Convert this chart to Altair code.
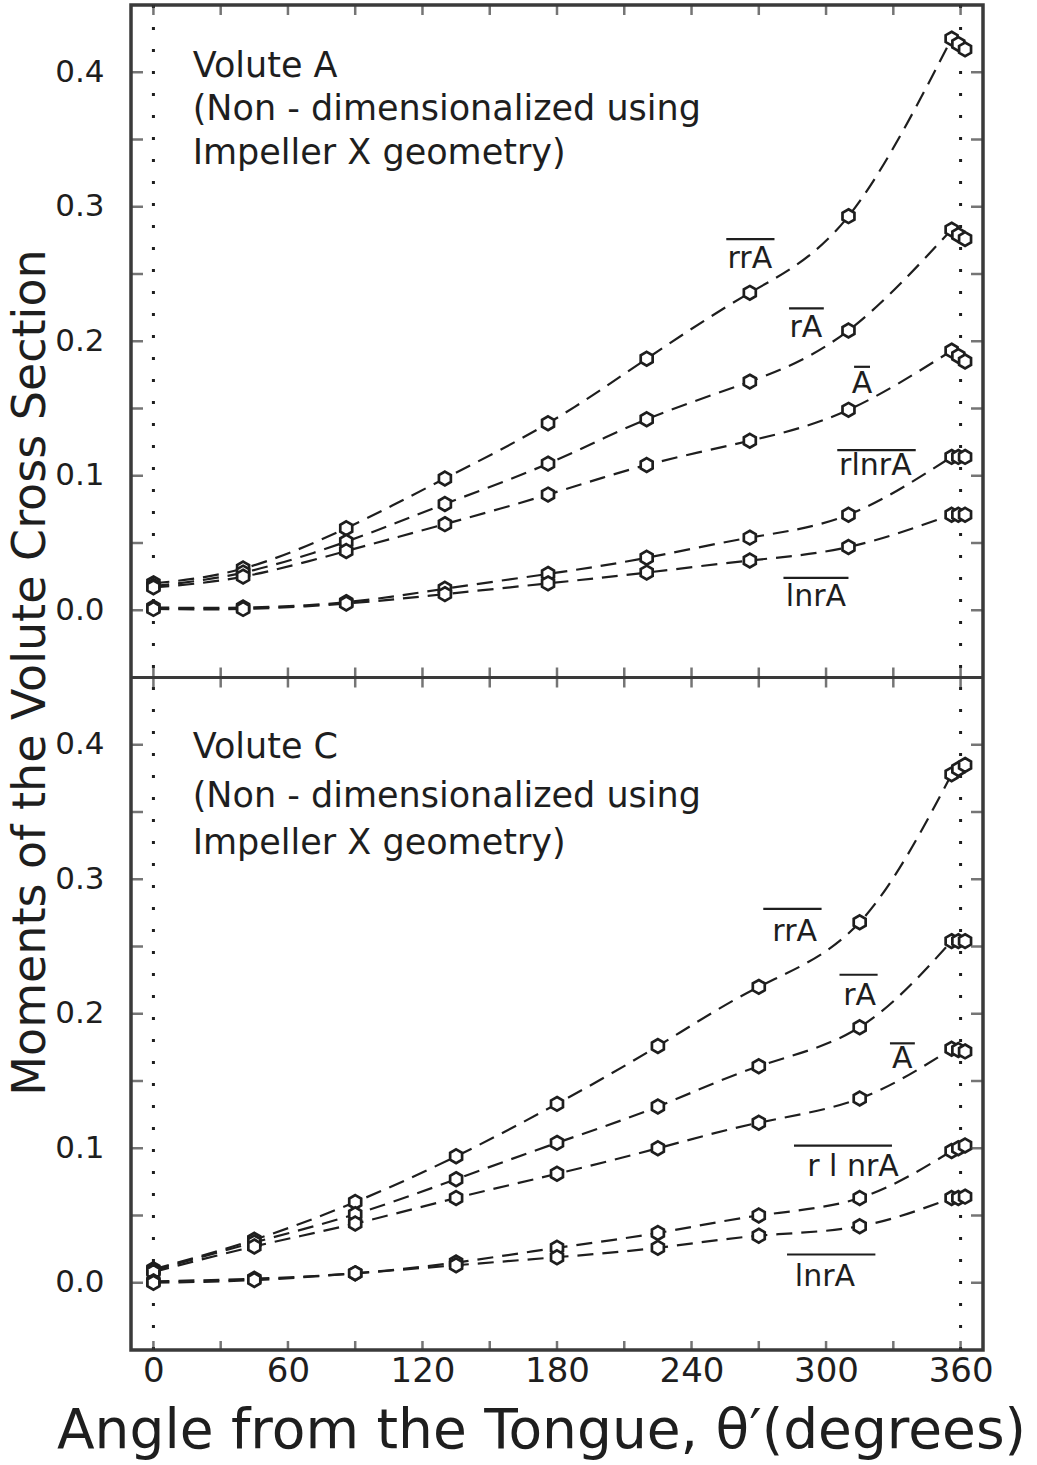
import altair as alt
import pandas as pd

# ---------------- data ----------------
angles_A = [0, 40, 86, 130, 176, 220, 266, 310, 356, 359, 362]
angles_C = [0, 45, 90, 135, 180, 225, 270, 315, 356, 359, 362]

# Volute A
rrA_A = [0.020, 0.031, 0.061, 0.098, 0.139, 0.187, 0.236, 0.293, 0.425, 0.421, 0.417]
rA_A = [0.018, 0.028, 0.051, 0.079, 0.109, 0.142, 0.170, 0.208, 0.283, 0.279, 0.276]
A_A = [0.017, 0.025, 0.044, 0.064, 0.086, 0.108, 0.126, 0.149, 0.193, 0.189, 0.185]
rlnrA_A = [0.002, 0.002, 0.006, 0.016, 0.027, 0.039, 0.054, 0.071, 0.114, 0.114, 0.114]
lnrA_A = [0.001, 0.001, 0.005, 0.012, 0.020, 0.028, 0.037, 0.047, 0.071, 0.071, 0.071]

# Volute C
rrA_C = [0.010, 0.032, 0.060, 0.094, 0.133, 0.176, 0.220, 0.268, 0.378, 0.382, 0.385]
rA_C = [0.009, 0.030, 0.051, 0.077, 0.104, 0.131, 0.161, 0.190, 0.254, 0.254, 0.254]
A_C = [0.008, 0.027, 0.044, 0.063, 0.081, 0.100, 0.119, 0.137, 0.174, 0.173, 0.172]
rlnrA_C = [0.001, 0.003, 0.007, 0.015, 0.026, 0.037, 0.050, 0.063, 0.098, 0.100, 0.102]
lnrA_C = [0.000, 0.002, 0.007, 0.013, 0.019, 0.026, 0.035, 0.042, 0.063, 0.063, 0.064]

series_names = ["rrA", "rA", "A", "rlnrA", "lnrA"]

# curve labels (text, anchor angle, anchor value, overline span and height)
label_text_A = ["rrA", "rA", "A", "rlnrA", "lnrA"]
label_x_A = [266, 291, 316, 322, 295.5]
label_y_A = [0.261, 0.210, 0.168, 0.107, 0.010]
over_x1_A = [255.5, 283.5, 312.5, 305, 281]
over_x2_A = [277, 299, 319.6, 340, 310]
over_y_A = [0.276, 0.2245, 0.181, 0.119, 0.024]

label_text_C = ["rrA", "rA", "A", "r l nrA", "lnrA"]
label_x_C = [286, 315, 334, 312, 299.5]
label_y_C = [0.261, 0.213, 0.166, 0.086, 0.0045]
over_x1_C = [272, 306, 328.5, 285.7, 282.6]
over_x2_C = [298, 323, 339.6, 329.4, 322]
over_y_C = [0.278, 0.229, 0.178, 0.102, 0.021]

# panel notes
note_lines_A = ["Volute A", "(Non - dimensionalized using", "Impeller X geometry)"]
note_lines_C = ["Volute  C", "(Non - dimensionalized using", "Impeller X geometry)"]
note_x = 17.5
note_y_A = [0.405, 0.373, 0.340]
note_y_C = [0.398, 0.362, 0.327]

# axes
x_tick_labels = [0, 60, 120, 180, 240, 300, 360]
x_minor_ticks = [0, 30, 60, 90, 120, 150, 180, 210, 240, 270, 300, 330, 360]
y_tick_labels = [0.0, 0.1, 0.2, 0.3, 0.4]
y_minor_ticks = [0.0, 0.05, 0.10, 0.15, 0.20, 0.25, 0.30, 0.35, 0.40]
dotted_angles = [0, 360]

# the two panels are stacked on one value scale; Volute A is lifted by 0.5
panel_offset = {"A": 0.5, "C": 0.0}
panel_split = 0.45

# ---------------- tables ----------------
rows = []
for panel, angles, cols in [
    ("A", angles_A, [rrA_A, rA_A, A_A, rlnrA_A, lnrA_A]),
    ("C", angles_C, [rrA_C, rA_C, A_C, rlnrA_C, lnrA_C]),
]:
    for name, vals in zip(series_names, cols):
        for i, (a, v) in enumerate(zip(angles, vals)):
            rows.append({"panel": panel, "series": f"{panel}-{name}", "angle": a,
                         "value": v, "yplot": v + panel_offset[panel],
                         "curve": i <= 8, "order": i})
pts = pd.DataFrame(rows)
curve = pts[pts["curve"]]

lab_rows = []
for panel, t, lx, ly, x1, x2, oy in [
    ("A", label_text_A, label_x_A, label_y_A, over_x1_A, over_x2_A, over_y_A),
    ("C", label_text_C, label_x_C, label_y_C, over_x1_C, over_x2_C, over_y_C),
]:
    for i in range(len(t)):
        lab_rows.append({"text": t[i], "angle": lx[i], "yplot": ly[i] + panel_offset[panel],
                         "x1": x1[i], "x2": x2[i], "oy": oy[i] + panel_offset[panel]})
labs = pd.DataFrame(lab_rows)
over = pd.DataFrame({"angle": labs["x1"], "angle2": labs["x2"], "yplot": labs["oy"]})

note_rows = []
for panel, lines, ys in [("A", note_lines_A, note_y_A), ("C", note_lines_C, note_y_C)]:
    for line, y in zip(lines, ys):
        note_rows.append({"text": line, "angle": note_x, "yplot": y + panel_offset[panel]})
notes = pd.DataFrame(note_rows)

ytick_df = pd.DataFrame({"yplot": [v + o for o in panel_offset.values() for v in y_minor_ticks]})
xtick_df = pd.DataFrame({"angle": x_minor_ticks})
dot_df = pd.DataFrame({"angle": dotted_angles})
split_df = pd.DataFrame({"yplot": [panel_split]})
mid_df = pd.DataFrame({"angle": x_minor_ticks, "yplot": [panel_split] * len(x_minor_ticks)})

# ---------------- scales / axes ----------------
W, H = 852, 1345
FONT = "DejaVu Sans"
INK = "#1e1e1e"
FRAME = "#3a3a3a"
xs = alt.Scale(domain=[-10, 370], nice=False, zero=False)
ys = alt.Scale(domain=[-0.05, 0.95], nice=False, zero=False)

y_label_vals = [v + o for o in panel_offset.values() for v in y_tick_labels]

x_axis = alt.Axis(values=x_tick_labels, ticks=False, domain=False, grid=False,
                  labelFontSize=34, labelPadding=4, labelColor=INK, labelFont=FONT,
                  title="Angle from the Tongue, \u03b8\u2032(degrees)",
                  titleFontSize=55, titleFont=FONT, titleFontWeight="normal", titleColor=INK,
                  titleX=410, titleY=97, titleAlign="center", titleBaseline="alphabetic")
y_axis = alt.Axis(values=y_label_vals, ticks=False, domain=False, grid=False,
                  labelExpr="format(datum.value >= 0.45 ? datum.value - 0.5 : datum.value, '.1f')",
                  labelFontSize=31, labelPadding=27, labelColor=INK, labelFont=FONT,
                  labelBaseline="middle",
                  title="Moments of the Volute Cross Section",
                  titleFontSize=46, titleFont=FONT, titleFontWeight="normal", titleColor=INK,
                  titleAngle=270, titleX=-87, titleY=667, titleAlign="center",
                  titleBaseline="alphabetic")


def X():
    return alt.X("angle:Q", scale=xs, axis=x_axis)


def Y():
    return alt.Y("yplot:Q", scale=ys, axis=y_axis)


hexagon = "M0,-1L0.866,-0.5L0.866,0.5L0,1L-0.866,0.5L-0.866,-0.5Z"

lines = alt.Chart(curve).mark_line(
    interpolate="natural", strokeDash=[16, 9], strokeWidth=2.2, color=INK
).encode(x=X(), y=Y(), detail="series:N", order="order:Q")

points = alt.Chart(pts).mark_point(
    shape=hexagon, size=190, filled=False, fill="white", fillOpacity=1,
    stroke=INK, strokeWidth=2.7, opacity=1
).encode(x=X(), y=Y())

dotted = alt.Chart(dot_df).mark_rule(
    strokeDash=[3, 19], strokeWidth=3, color=INK
).encode(x=X())

split = alt.Chart(split_df).mark_rule(strokeWidth=3, color=FRAME).encode(y=Y())

left_ticks = alt.Chart(ytick_df).mark_tick(
    orient="horizontal", size=24, thickness=2.5, color=FRAME, clip=True
).encode(y=Y(), x=alt.value(0))
right_ticks = alt.Chart(ytick_df).mark_tick(
    orient="horizontal", size=24, thickness=2.5, color=FRAME, clip=True
).encode(y=Y(), x=alt.value(W))
top_ticks = alt.Chart(xtick_df).mark_tick(
    orient="vertical", size=20, thickness=2.5, color=FRAME, clip=True
).encode(x=X(), y=alt.value(0))
bottom_ticks = alt.Chart(xtick_df).mark_tick(
    orient="vertical", size=18, thickness=2.5, color=FRAME, clip=True
).encode(x=X(), y=alt.value(H))
mid_ticks = alt.Chart(mid_df).mark_tick(
    orient="vertical", size=20, thickness=2.5, color=FRAME, clip=True
).encode(x=X(), y=Y())

label_text = alt.Chart(labs).mark_text(
    fontSize=30, font=FONT, color=INK, align="center", baseline="middle"
).encode(x=X(), y=Y(), text="text:N")
overlines = alt.Chart(over).mark_rule(strokeWidth=2.2, color=INK).encode(
    x=X(), x2="angle2:Q", y=Y())

note_text = alt.Chart(notes).mark_text(
    fontSize=35, font=FONT, color=INK, align="left", baseline="middle"
).encode(x=X(), y=Y(), text="text:N")

chart = alt.layer(
    dotted, split, lines, points, left_ticks, right_ticks, top_ticks, bottom_ticks,
    mid_ticks, label_text, overlines, note_text
).properties(
    width=W, height=H,
    autosize=alt.AutoSizeParams(type="none"),
    padding={"left": 131, "top": 5, "right": 54, "bottom": 115},
    background="white",
).configure(font=FONT).configure_view(stroke=FRAME, strokeWidth=3.5)

chart.save("out.html", embed_options={"renderer": "svg", "actions": False})
